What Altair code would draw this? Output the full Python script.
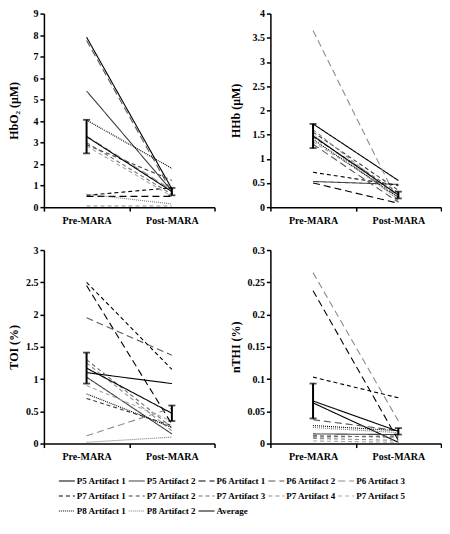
import altair as alt
import pandas as pd

series = ["P5 Artifact 1", "P5 Artifact 2", "P6 Artifact 1", "P6 Artifact 2", "P6 Artifact 3",
          "P7 Artifact 1", "P7 Artifact 2", "P7 Artifact 3", "P7 Artifact 4", "P7 Artifact 5",
          "P8 Artifact 1", "P8 Artifact 2", "Average"]
phases = ["Pre-MARA", "Post-MARA"]

# values (last entry = Average)
hbo2_pre = [7.9, 5.4, 0.5, 7.75, 3.3, 0.55, 2.9, 3.0, 0.05, 2.85, 4.05, 0.6, 3.28]
hbo2_post = [0.85, 0.75, 0.5, 0.7, 0.8, 0.9, 1.25, 0.6, 0.05, 0.5, 1.8, 0.15, 0.72]
hbo2_err = [0.78, 0.17]

hhb_pre = [1.72, 0.53, 0.5, 1.3, 3.65, 0.72, 1.55, 1.45, 1.6, 1.35, 1.4, 1.5, 1.47]
hhb_post = [0.55, 0.47, 0.08, 0.1, 0.1, 0.45, 0.35, 0.3, 0.2, 0.25, 0.2, 0.15, 0.25]
hhb_err = [0.25, 0.07]

toi_pre = [1.1, 1.03, 2.45, 1.95, 0.12, 2.5, 0.7, 1.3, 1.25, 0.9, 0.77, 0.02, 1.17]
toi_post = [0.93, 0.15, 0.3, 1.37, 0.55, 1.15, 0.28, 0.25, 0.2, 0.35, 0.25, 0.1, 0.47]
toi_err = [0.24, 0.12]

nthi_pre = [0.063, 0.015, 0.237, 0.037, 0.265, 0.103, 0.012, 0.010, 0.008, 0.004, 0.028, 0.025, 0.066]
nthi_post = [0.002, 0.014, 0.005, 0.02, 0.035, 0.071, 0.01, 0.012, 0.005, 0.002, 0.02, 0.017, 0.019]
nthi_err = [0.027, 0.005]

# styles
colors = ["#000000", "#404040", "#000000", "#595959", "#8c8c8c",
          "#000000", "#404040", "#6e6e6e", "#8c8c8c", "#a6a6a6",
          "#000000", "#777777", "#000000"]
LONG = [7, 4]
SHORT = [4, 3]
DOT = [1, 1]
SOLID = [1, 0]
dashes = [SOLID, SOLID, LONG, LONG, LONG, SHORT, SHORT, SHORT, SHORT, SHORT, DOT, DOT, SOLID]
widths = [1.1] * 12 + [3.2]

FONT = "Liberation Serif"
W, H = 171, 194

legend = alt.Legend(title=None, orient="none", direction="horizontal", legendX=14, legendY=461,
                    columns=5, symbolType="stroke", symbolSize=256, clipHeight=15, rowPadding=0,
                    columnPadding=1, labelFont=FONT, labelFontWeight="bold", labelFontSize=9,
                    labelColor="black", labelLimit=200, labelOffset=1, symbolOffset=0)


def panel(pre, post, err, title, ymax, ticks, ext):
    n = len(series)
    df = pd.DataFrame({"series": series * 2,
                       "phase": [phases[0]] * n + [phases[1]] * n,
                       "value": pre + post})
    edf = pd.DataFrame({"phase": phases,
                        "lo": [pre[-1] - err[0], post[-1] - err[1]],
                        "hi": [pre[-1] + err[0], post[-1] + err[1]]})
    x = alt.X("phase:N", sort=phases,
              scale=alt.Scale(domain=phases, paddingInner=0, paddingOuter=0),
              axis=alt.Axis(title=None, tickBand="extent", labelAngle=0, labelPadding=4))
    yscale = alt.Scale(domain=[0, ymax], nice=False)
    yaxis = alt.Axis(title=title, values=ticks, format="~g", labelOverlap=False, minExtent=ext)
    lines = alt.Chart(df).mark_line().encode(
        x=x, y=alt.Y("value:Q", scale=yscale, axis=yaxis),
        color=alt.Color("series:N", sort=series, scale=alt.Scale(domain=series, range=colors), legend=legend),
        strokeDash=alt.StrokeDash("series:N", sort=series, scale=alt.Scale(domain=series, range=dashes), legend=legend),
        strokeWidth=alt.StrokeWidth("series:N", sort=series, scale=alt.Scale(domain=series, range=widths), legend=legend),
    )
    ebar = alt.Chart(edf).mark_rule(color="black", strokeWidth=2).encode(
        x=x, y=alt.Y("lo:Q", scale=yscale, axis=yaxis), y2="hi:Q")
    cap_lo = alt.Chart(edf).mark_tick(color="black", thickness=1.8, size=7).encode(
        x=x, y=alt.Y("lo:Q", scale=yscale, axis=yaxis))
    cap_hi = alt.Chart(edf).mark_tick(color="black", thickness=1.8, size=7).encode(
        x=x, y=alt.Y("hi:Q", scale=yscale, axis=yaxis))
    return alt.layer(lines, ebar, cap_lo, cap_hi).properties(width=W, height=H)


p1 = panel(hbo2_pre, hbo2_post, hbo2_err, "HbO₂ (μM)", 9, list(range(10)), 19)
p2 = panel(hhb_pre, hhb_post, hhb_err, "HHb (μM)", 4, [0, 0.5, 1, 1.5, 2, 2.5, 3, 3.5, 4], 24)
p3 = panel(toi_pre, toi_post, toi_err, "TOI (%)", 3, [0, 0.5, 1, 1.5, 2, 2.5, 3], 19)
p4 = panel(nthi_pre, nthi_post, nthi_err, "nTHI (%)", 0.3, [0, 0.05, 0.1, 0.15, 0.2, 0.25, 0.3], 24)

chart = alt.vconcat(
    alt.hconcat(p1, p2, spacing=14),
    alt.hconcat(p3, p4, spacing=14),
    spacing=20,
).properties(
    padding=0
).configure_view(
    strokeWidth=0
).configure_axis(
    grid=False, domainColor="black", domainWidth=1.5, tickColor="black", tickWidth=1.5,
    tickSize=4, labelFont=FONT, labelFontWeight="bold", labelFontSize=10, labelColor="black",
    titleFont=FONT, titleFontWeight="bold", titleFontSize=12, titleColor="black",
    titlePadding=4, labelPadding=2,
)

chart.save("out.html", embed_options={"renderer": "svg", "actions": False})
